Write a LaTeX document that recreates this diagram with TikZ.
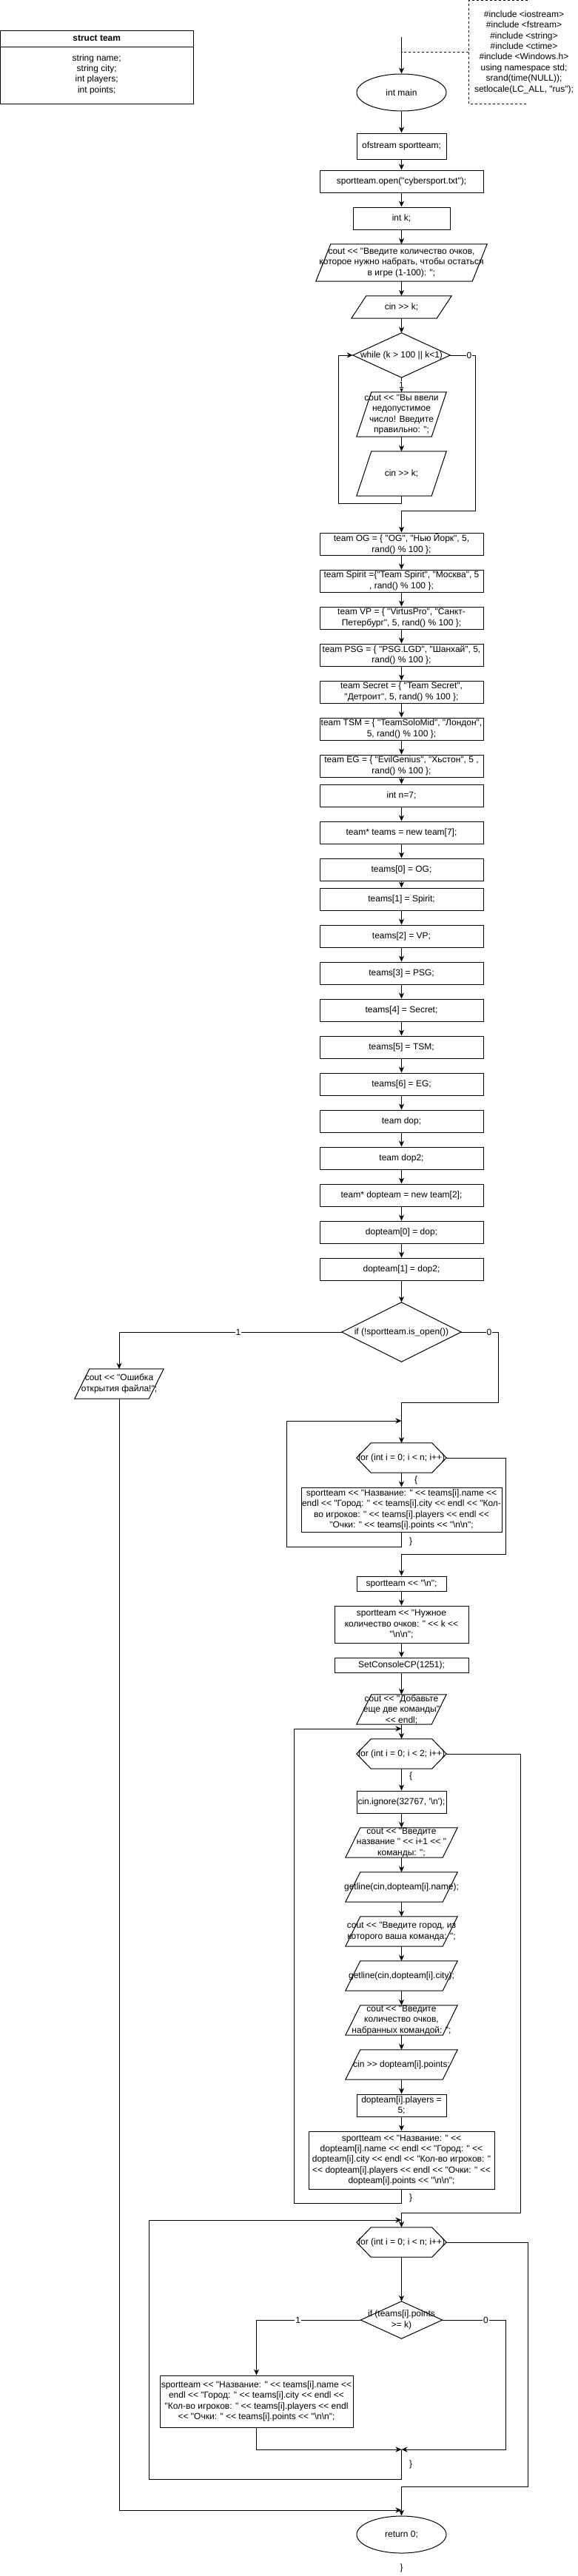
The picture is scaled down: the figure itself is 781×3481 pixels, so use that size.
\documentclass[tikz,border=0pt]{standalone}
\usepackage{fontspec}
\newfontfamily\cf{Liberation Sans}
\usetikzlibrary{arrows.meta,shapes.geometric}
\newcommand\bsl{\textbackslash}
\tikzset{
 ln/.style={line width=1pt},
 arr/.style={line width=1pt,-{Stealth[length=8pt,width=7pt,inset=2.5pt]}},
 txt/.style={align=center,inner sep=0pt,font=\cf\fontsize{12}{14.4}\selectfont},
 rbox/.style={draw,line width=1pt,rectangle,inner sep=0pt},
 ebox/.style={draw,line width=1pt,ellipse,inner sep=0pt},
 plain/.style={rectangle,inner sep=0pt},
 lab/.style={fill=white,inner sep=1pt,font=\cf\fontsize{12}{14.4}\selectfont},
}
\newcommand\shp[7]{\node[#1,minimum width=#5,minimum height=#6] (#2) at (#3,#4) {};
 \node[txt] (#2-t) at (#2.center) {#7};}
\newcommand\drawpara[1]{\draw[ln] ([xshift=20pt]#1.north west) -- (#1.north east) -- ([xshift=-20pt]#1.south east) -- (#1.south west) -- cycle;}
\newcommand\drawhex[1]{\draw[ln] (#1.west) -- ([xshift=19.5pt]#1.north west) -- ([xshift=-19.5pt]#1.north east) -- (#1.east) -- ([xshift=-19.5pt]#1.south east) -- ([xshift=19.5pt]#1.south west) -- cycle;}
\newcommand\drawdia[1]{\draw[ln] (#1.north) -- (#1.east) -- (#1.south) -- (#1.west) -- cycle;}
\begin{document}
\begin{tikzpicture}[x=1pt,y=-1pt]
\useasboundingbox[fill=white] (0,0) rectangle (781,3481);

% struct team
\node[rbox,minimum width=260.5,minimum height=99] (st) at (130.75,90.5) {};
\draw[ln] (0.5,63) -- (261,63);
\node[txt,font=\cf\bfseries\fontsize{12}{14.4}\selectfont] (stt) at (130.75,52) {struct team};
\node[txt] (stb) at (130.75,100.5) {string name;\\string city;\\int players;\\int points;};

% annotation
\draw[ln,dashed] (713,0.5) -- (633,0.5) -- (633,140) -- (713,140);
\node[txt] (ann) at (708,70.5) {\#include <iostream>\\\#include <fstream>\\\#include <string>\\\#include <ctime>\\\#include <Windows.h>\\using namespace std;\\srand(time(NULL));\\setlocale(LC\_ALL, "rus");};

% main column
\shp{ebox}{main}{542.5}{125}{121}{50}{int main}
\coordinate (topc) at (542.5,50);
\coordinate (annl) at (633,70);
\draw[arr] (topc) -- (main.north);
\draw[ln,dashed] (annl) -- (annl -| main.north);

\shp{rbox}{b1}{542.5}{197.5}{121}{35}{ofstream sportteam;}
\shp{rbox}{b2}{542.5}{245}{221}{30}{sportteam.open("cybersport.txt");}
\shp{rbox}{b3}{542.5}{295}{131}{30}{int k;}
\shp{plain}{p1}{542.5}{355}{231}{50}{cout << "Введите количество очков,\\которое нужно набрать, чтобы остаться\\в игре (1-100): ";}
\drawpara{p1}
\shp{plain}{p2}{542.5}{415}{135}{30}{cin >> k;}
\drawpara{p2}
\shp{plain}{d1}{542.5}{480}{131}{60}{while (k > 100 || k<1)}
\drawdia{d1}
\shp{plain}{p3}{542.5}{560}{121}{60}{cout << "Вы ввели\\недопустимое\\число! Введите\\правильно: ";}
\drawpara{p3}
\shp{plain}{p4}{542.5}{640}{121}{60}{cin >> k;}
\drawpara{p4}

\shp{rbox}{t1}{542.5}{735}{221}{30}{team OG = \{ "OG", "Нью Йорк", 5,\\rand() \% 100 \};}
\shp{rbox}{t2}{542.5}{785}{221}{30}{team Spirit =\{"Team Spirit", "Москва", 5\\, rand() \% 100 \};}
\shp{rbox}{t3}{542.5}{835}{221}{30}{team VP = \{ "VirtusPro", "Санкт-\\Петербург", 5, rand() \% 100 \};}
\shp{rbox}{t4}{542.5}{885}{221}{30}{team PSG = \{ "PSG.LGD", "Шанхай", 5,\\rand() \% 100 \};}
\shp{rbox}{t5}{542.5}{935}{221}{30}{team Secret = \{ "Team Secret",\\"Детроит", 5, rand() \% 100 \};}
\shp{rbox}{t6}{542.5}{985}{221}{30}{team TSM = \{ "TeamSoloMid", "Лондон",\\5, rand() \% 100 \};}
\shp{rbox}{t7}{542.5}{1035}{221}{30}{team EG = \{ "EvilGenius", "Хьстон", 5 ,\\rand() \% 100 \};}
\shp{rbox}{n7}{542.5}{1075}{221}{30}{int n=7;}
\shp{rbox}{tn}{542.5}{1125}{221}{30}{team* teams = new team[7];}
\shp{rbox}{a0}{542.5}{1175}{221}{30}{teams[0] = OG;}
\shp{rbox}{a1}{542.5}{1215}{221}{30}{teams[1] = Spirit;}
\shp{rbox}{a2}{542.5}{1265}{221}{30}{teams[2] = VP;}
\shp{rbox}{a3}{542.5}{1315}{221}{30}{teams[3] = PSG;}
\shp{rbox}{a4}{542.5}{1365}{221}{30}{teams[4] = Secret;}
\shp{rbox}{a5}{542.5}{1415}{221}{30}{teams[5] = TSM;}
\shp{rbox}{a6}{542.5}{1465}{221}{30}{teams[6] = EG;}
\shp{rbox}{dp}{542.5}{1515}{221}{30}{team dop;}
\shp{rbox}{dq}{542.5}{1565}{221}{30}{team dop2;}
\shp{rbox}{dt}{542.5}{1615}{221}{30}{team* dopteam = new team[2];}
\shp{rbox}{dz}{542.5}{1665}{221}{30}{dopteam[0] = dop;}
\shp{rbox}{dy}{542.5}{1715}{221}{30}{dopteam[1] = dop2;}

\foreach \a/\b in {main/b1,b1/b2,b2/b3,b3/p1,p1/p2,p2/d1,p3/p4,t1/t2,t2/t3,t3/t4,t4/t5,t5/t6,t6/t7,t7/n7,n7/tn,tn/a0,a0/a1,a1/a2,a2/a3,a3/a4,a4/a5,a5/a6,a6/dp,dp/dq,dq/dt,dt/dz,dz/dy}
  \draw[arr] (\a.south) -- (\b.north);
\draw[arr] (d1.south) -- node[lab] (l1a) {1} (p3.north);
\draw[arr] (p4.south) -- (542.5,680) -- (457,680) -- (457,480) -- (d1.west);
\draw[arr] (d1.east) -- node[lab,pos=0.76] (l0a) {0} (642,480) -- (642,690) -- (542.5,690) -- (t1.north);

% if is_open
\shp{plain}{d2}{542.5}{1800}{161}{80}{if (!sportteam.is\_open())}
\drawdia{d2}
\draw[arr] (dy.south) -- (d2.north);
\shp{plain}{p5}{161}{1870}{120}{40}{cout << "Ошибка\\открытия файла!";}
\drawpara{p5}
\draw[arr] (d2.west) -- node[lab,pos=0.465] (l1b) {1} (161,1800) -- (p5.north);
\draw[arr] (d2.east) -- node[lab,pos=0.76] (l0b) {0} (673,1800) -- (673,1895) -- (542.5,1895) -- (542.5,1950);

% loop 1
\shp{plain}{h1}{542.5}{1970}{121}{40}{for (int i = 0; i < n; i++)}
\drawhex{h1}
\coordinate (lp1) at (542.5,1920);
\shp{rbox}{b5}{542.5}{2040}{271}{60}{sportteam << "Название: " << teams[i].name <<\\endl << "Город: " << teams[i].city << endl << "Кол-\\во игроков: " << teams[i].players << endl <<\\"Очки: " << teams[i].points << "\bsl n\bsl n";}
\draw[arr] (h1.south) -- (b5.north);
\node[txt] (ob1) at (562,2000) {\{};
\node[txt] (cb1) at (555,2083) {\}};
\draw[arr] (b5.south) -- (542.5,2090) -- (387,2090) -- (387,1920) -- (lp1);
\shp{rbox}{b6}{542.5}{2140}{121}{20}{sportteam << "\bsl n";}
\draw[arr] (h1.east) -- (683,1970) -- (683,2100) -- (542.5,2100) -- (b6.north);
\shp{rbox}{b7}{542.5}{2195}{181}{50}{sportteam << "Нужное\\количество очков: " << k <<\\"\bsl n\bsl n";}
\shp{rbox}{b8}{542.5}{2250}{181}{20}{SetConsoleCP(1251);}
\shp{plain}{p6}{542.5}{2310}{121}{40}{cout << "Добавьте\\еще две команды"\\<< endl;}
\drawpara{p6}

% loop 2
\shp{plain}{h2}{542.5}{2370}{121}{40}{for (int i = 0; i < 2; i++)}
\drawhex{h2}
\coordinate (lp2) at (542.5,2336);
\node[txt] (ob2) at (555,2400) {\{};
\shp{rbox}{b9}{542.5}{2435}{121}{30}{cin.ignore(32767, '\bsl n');}
\shp{plain}{p7}{542.5}{2490}{151}{40}{cout << "Введите\\название " << i+1 << "\\команды: ";}
\drawpara{p7}
\shp{plain}{p8}{542.5}{2550}{151}{40}{getline(cin,dopteam[i].name);}
\drawpara{p8}
\shp{plain}{p9}{542.5}{2610}{151}{40}{cout << "Введите город, из\\которого ваша команда: ";}
\drawpara{p9}
\shp{plain}{p10}{542.5}{2670}{151}{40}{getline(cin,dopteam[i].city);}
\drawpara{p10}
\shp{plain}{p11}{542.5}{2730}{151}{40}{cout << "Введите\\количество очков,\\набранных командой: ";}
\drawpara{p11}
\shp{plain}{p12}{542.5}{2790}{151}{40}{cin >> dopteam[i].points;}
\drawpara{p12}
\shp{rbox}{b10}{542.5}{2845}{121}{30}{dopteam[i].players =\\5;}
\shp{rbox}{b11}{542.5}{2919}{251}{78}{sportteam << "Название: " <<\\dopteam[i].name << endl << "Город: " <<\\dopteam[i].city << endl << "Кол-во игроков: "\\<< dopteam[i].players << endl << "Очки: " <<\\dopteam[i].points << "\bsl n\bsl n";}
\foreach \a/\b in {b6/b7,b7/b8,b8/p6,p6/h2,h2/b9,b9/p7,p7/p8,p8/p9,p9/p10,p10/p11,p11/p12,p12/b10,b10/b11}
  \draw[arr] (\a.south) -- (\b.north);
\node[txt] (cb2) at (555,2970) {\}};
\draw[arr] (b11.south) -- (542.5,2977) -- (397,2977) -- (397,2336) -- (lp2);

% loop 3
\shp{plain}{h3}{542.5}{3030}{121}{40}{for (int i = 0; i < n; i++)}
\drawhex{h3}
\draw[arr] (h2.east) -- (703,2370) -- (703,2990) -- (542.5,2990) -- (h3.north);
\coordinate (lp3) at (542.5,3000);
\shp{plain}{d3}{542.5}{3135}{110}{50}{if (teams[i].points\\>= k)}
\drawdia{d3}
\draw[arr] (h3.south) -- (d3.north);
\shp{rbox}{b12}{346.5}{3245}{261}{70}{sportteam << "Название: " << teams[i].name <<\\endl << "Город: " << teams[i].city << endl <<\\"Кол-во игроков: " << teams[i].players << endl\\<< "Очки: " << teams[i].points << "\bsl n\bsl n";}
\coordinate (jn) at (542.5,3310);
\draw[arr] (d3.west) -- node[lab,pos=0.6] (l1c) {1} (346.5,3135) -- (b12.north);
\draw[arr] (d3.east) -- node[lab,pos=0.69] (l0c) {0} (683,3135) -- (683,3310) -- (jn);
\draw[arr] (b12.south) -- (346.5,3310) -- (jn);
\draw[arr] (jn) -- (542.5,3350) -- (201,3350) -- (201,3000) -- (lp3);
\node[txt] (cb3) at (555,3330) {\}};

% end
\shp{ebox}{endm}{542.5}{3425}{121}{50}{return 0;}
\coordinate (endc) at (542.5,3392);
\draw[arr] (h3.east) -- (713,3030) -- (713,3360) -- (542.5,3360) -- (endm.north);
\draw[arr] (p5.south) -- (161,3392) -- (endc);
\node[txt] (cb4) at (542.5,3470) {\}};
\end{tikzpicture}
\end{document}
